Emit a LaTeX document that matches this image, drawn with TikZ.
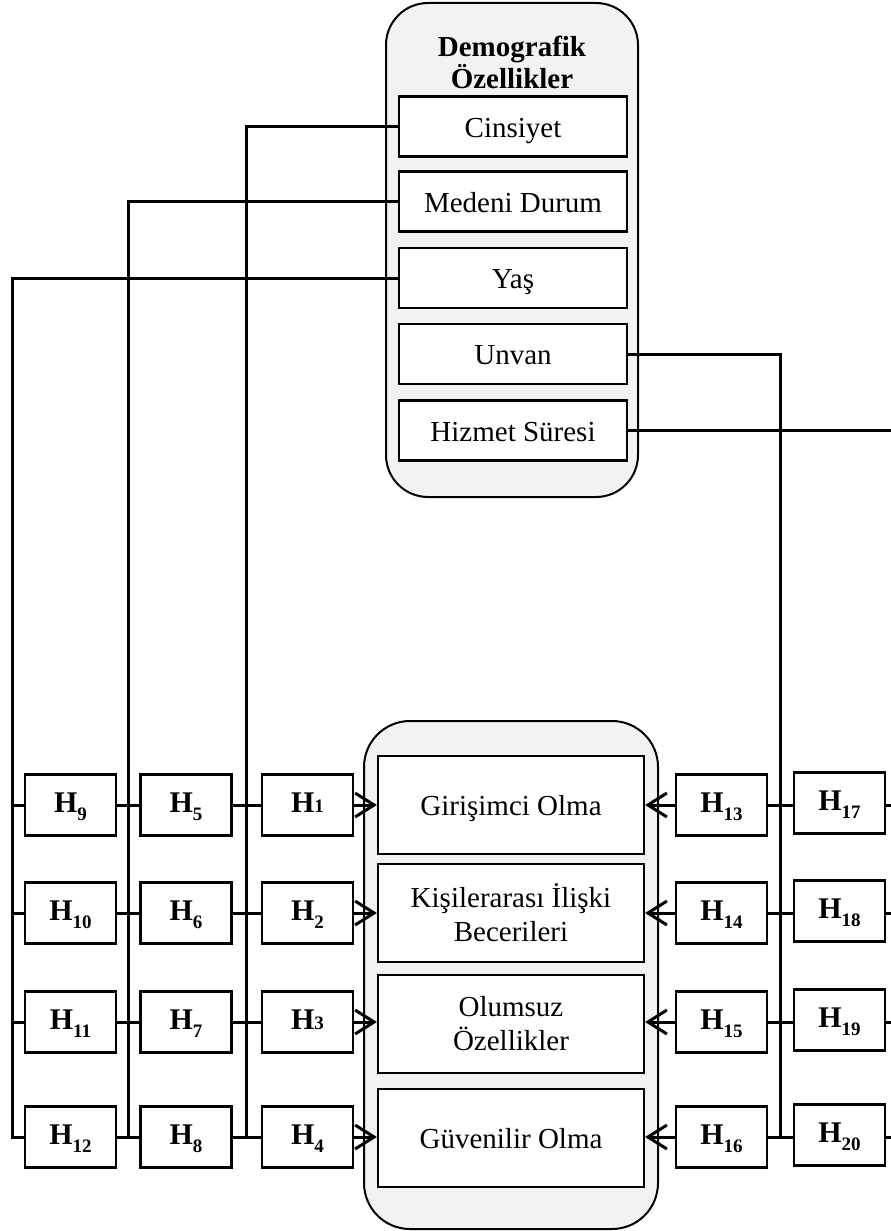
\documentclass[tikz,border=0pt]{standalone}
\usepackage{fontspec}
\setmainfont{Liberation Serif}
\usetikzlibrary{arrows.meta,calc}
\definecolor{bgg}{RGB}{242,242,242}
\newcommand\Hs[1]{\textbf{H}\raisebox{-8pt}{\fontsize{19pt}{19pt}\selectfont\textbf{#1}}}
\newcommand\Hb[1]{\textbf{H}{\fontsize{19pt}{19pt}\selectfont\textbf{#1}}}
\begin{document}
\begin{tikzpicture}[x=1pt,y=-1pt,
  txt/.style={font=\fontsize{29pt}{34pt}\selectfont},
  outer/.style={draw, line width=2pt, fill=bgg, inner sep=0pt},
  ibox/.style={draw, line width=2.2pt, fill=white, inner sep=0pt, txt, align=center},
  oneline/.style={text height=27pt, text depth=6pt},
  hbox/.style={draw, line width=2.2pt, fill=white, minimum width=91pt, minimum height=61pt,
               inner sep=0pt, font=\fontsize{30pt}{34pt}\selectfont, text height=20pt, text depth=5pt},
  conn/.style={line width=3pt},
  arr/.style={conn, -{Straight Barb[length=19pt,width=24pt,line width=3pt]}},
]
\useasboundingbox (0,0) rectangle (891,1231);

% --- top group: demographic features
\node[outer, rounded corners=42pt, minimum width=252pt, minimum height=494pt] (demo) at (512,250) {};
\node[font=\bfseries\fontsize{29pt}{32pt}\selectfont, align=center, inner sep=0pt] (title) at (512,62) {Demografik\\Özellikler};
\node[ibox, oneline, minimum width=228pt, minimum height=60pt] (c1) at (513,126.5) {Cinsiyet};
\node[ibox, oneline, minimum width=228pt, minimum height=60pt] (c2) at (513,201.5) {Medeni Durum};
\node[ibox, oneline, minimum width=228pt, minimum height=60pt] (c3) at (513,278) {Yaş};
\node[ibox, oneline, minimum width=228pt, minimum height=60pt] (c4) at (513,354) {Unvan};
\node[ibox, oneline, minimum width=228pt, minimum height=60pt] (c5) at (513,430.5) {Hizmet Süresi};

% --- bottom group
\node[outer, rounded corners=46pt, minimum width=294pt, minimum height=508pt] (dep) at (511,975) {};
\node[ibox, oneline, minimum width=266pt, minimum height=98pt] (d1) at (511,805) {Girişimci Olma};
\node[ibox, minimum width=266pt, minimum height=98pt] (d2) at (511,913) {Kişilerarası İlişki\\Becerileri};
\node[ibox, minimum width=266pt, minimum height=98pt] (d3) at (511,1024) {Olumsuz\\Özellikler};
\node[ibox, oneline, minimum width=266pt, minimum height=98pt] (d4) at (511,1138) {Güvenilir Olma};

% --- hypothesis boxes
\node[hbox] (h9)  at (70.5,805)  {\Hs{9}};
\node[hbox] (h10) at (70.5,913)  {\Hs{10}};
\node[hbox] (h11) at (70.5,1022) {\Hs{11}};
\node[hbox] (h12) at (70.5,1137) {\Hs{12}};
\node[hbox] (h5)  at (186,805)   {\Hs{5}};
\node[hbox] (h6)  at (186,913)   {\Hs{6}};
\node[hbox] (h7)  at (186,1022)  {\Hs{7}};
\node[hbox] (h8)  at (186,1137)  {\Hs{8}};
\node[hbox] (h1)  at (307.5,805) {\Hb{1}};
\node[hbox] (h2)  at (307.5,913) {\Hs{2}};
\node[hbox] (h3)  at (307.5,1022){\Hb{3}};
\node[hbox] (h4)  at (307.5,1137){\Hs{4}};
\node[hbox] (h13) at (721.5,805) {\Hs{13}};
\node[hbox] (h14) at (721.5,913) {\Hs{14}};
\node[hbox] (h15) at (721.5,1022){\Hs{15}};
\node[hbox] (h16) at (721.5,1137){\Hs{16}};
\node[hbox] (h17) at (839.5,803) {\Hs{17}};
\node[hbox] (h18) at (839.5,911) {\Hs{18}};
\node[hbox] (h19) at (839.5,1020){\Hs{19}};
\node[hbox] (h20) at (839.5,1135){\Hs{20}};

% --- junction coordinates
\coordinate (kA) at (12,1137);
\coordinate (kB) at ($(h12.east)!0.5!(h8.west)$);
\coordinate (kC) at ($(h8.east)!0.5!(h4.west)$);
\coordinate (kD) at ($(h16.east)!0.5!(h20.west |- h16.east)$);
\coordinate (eR) at (891,0);

% --- demographic connectors
\draw[conn] (c1.west) -| (kC);
\draw[conn] (c2.west) -| (kB);
\draw[conn] (c3.west) -| (kA) -- (h12.west);
\draw[conn] (c4.east) -| (kD);
\draw[conn] (c5.east) -- (c5.east -| eR);

% --- left rows
\draw[conn] (h9.west)  -- (h9.west -| kA);
\draw[conn] (h10.west) -- (h10.west -| kA);
\draw[conn] (h11.west) -- (h11.west -| kA);
\draw[conn] (h9.east)  -- (h5.west);
\draw[conn] (h10.east) -- (h6.west);
\draw[conn] (h11.east) -- (h7.west);
\draw[conn] (h12.east) -- (h8.west);
\draw[conn] (h5.east)  -- (h1.west);
\draw[conn] (h6.east)  -- (h2.west);
\draw[conn] (h7.east)  -- (h3.west);
\draw[conn] (h8.east)  -- (h4.west);
\draw[arr] (h1.east) -- (d1.west);
\draw[arr] (h2.east) -- (d2.west);
\draw[arr] (h3.east) -- (h3.east -| d3.west);
\draw[arr] (h4.east) -- (h4.east -| d4.west);

% --- right rows
\draw[arr] (h13.west) -- (d1.east);
\draw[arr] (h14.west) -- (d2.east);
\draw[arr] (h15.west) -- (h15.west -| d3.east);
\draw[arr] (h16.west) -- (h16.west -| d4.east);
\draw[conn] (h13.east) -- (h13.east -| h17.west);
\draw[conn] (h14.east) -- (h14.east -| h18.west);
\draw[conn] (h15.east) -- (h15.east -| h19.west);
\draw[conn] (h16.east) -- (h16.east -| h20.west);
\draw[conn] (h17.east |- h13.east) -- (h13.east -| eR);
\draw[conn] (h18.east |- h14.east) -- (h14.east -| eR);
\draw[conn] (h19.east |- h15.east) -- (h15.east -| eR);
\draw[conn] (h20.east |- h16.east) -- (h16.east -| eR);
\end{tikzpicture}
\end{document}
